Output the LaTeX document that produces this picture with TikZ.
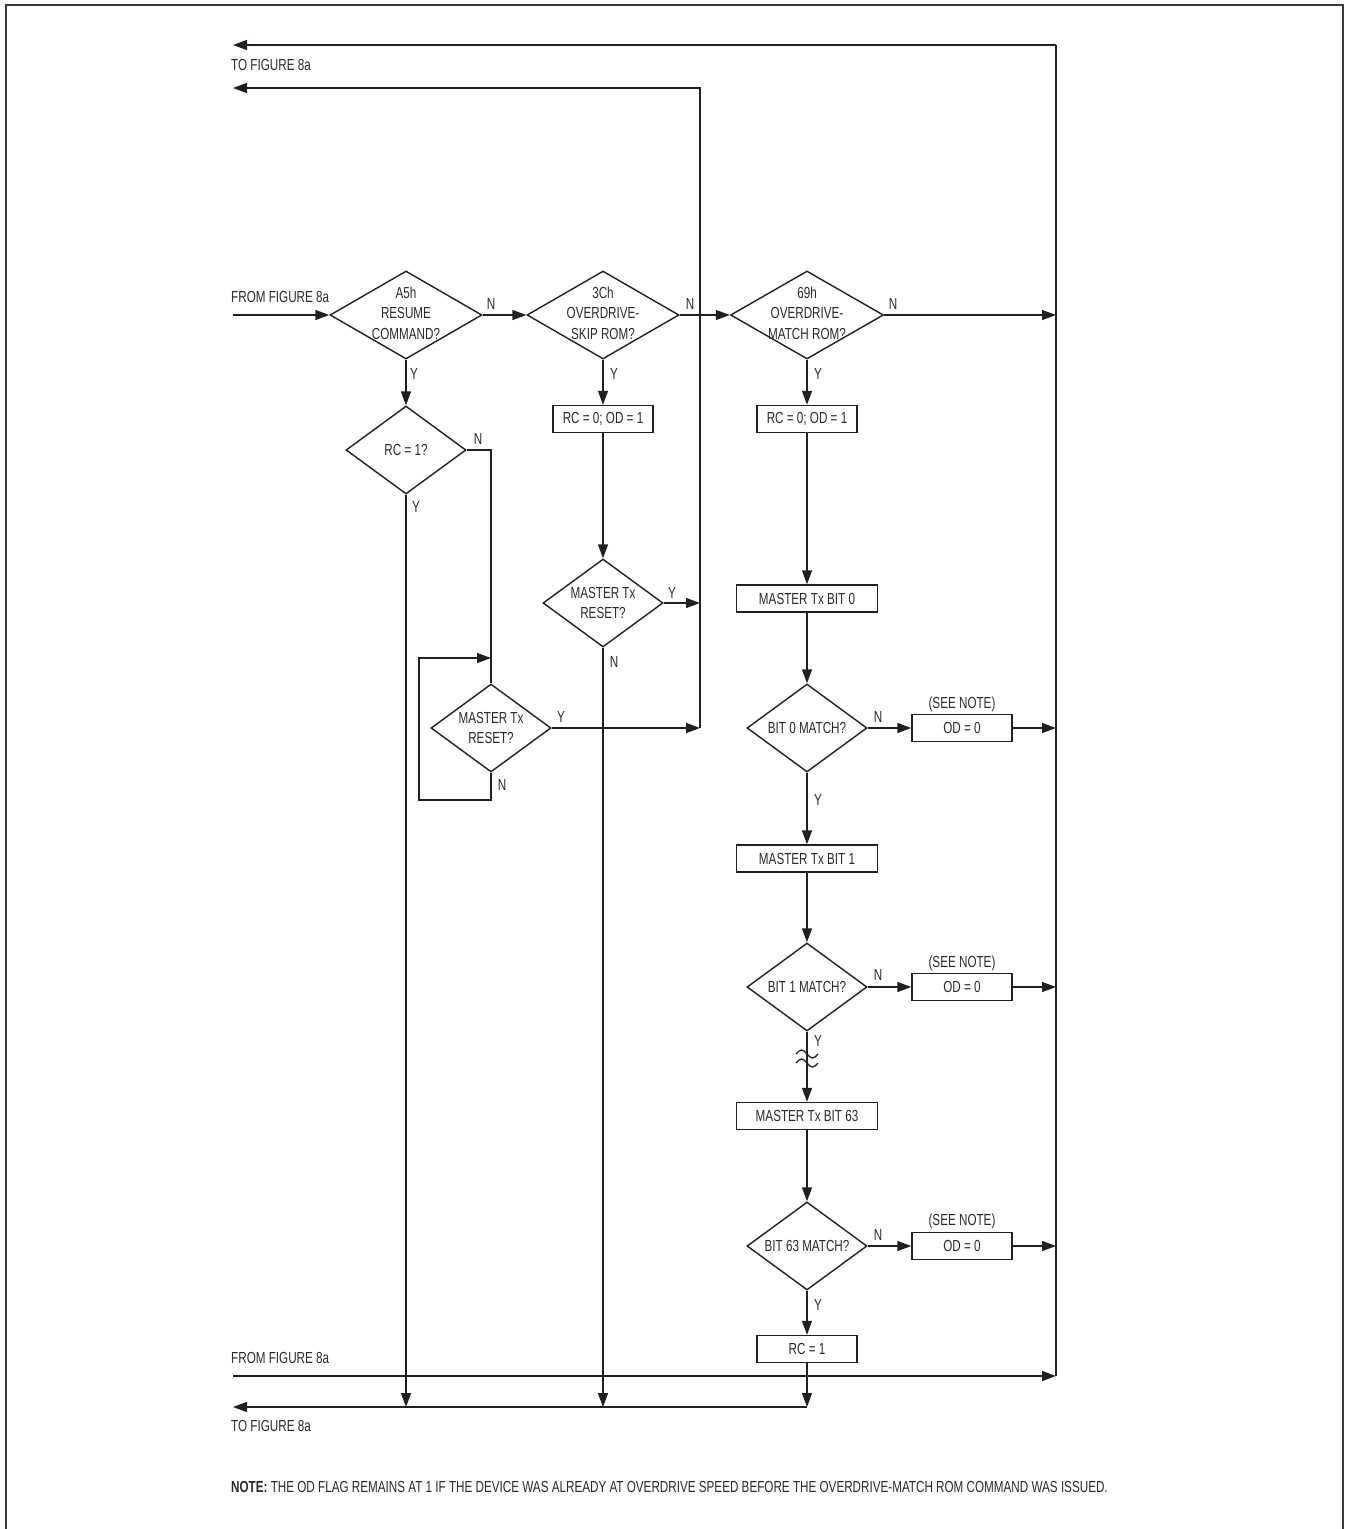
\documentclass[tikz,border=0pt]{standalone}
\usepackage{fontspec}
\setmainfont{Liberation Sans}[FakeStretch=0.73]
\usetikzlibrary{arrows.meta,shapes.geometric}
\definecolor{linec}{HTML}{231F20}
\definecolor{txtc}{HTML}{2A2A2A}
\definecolor{framec}{HTML}{3A3A3A}
\begin{document}
\begin{tikzpicture}[x=1pt,y=-1pt,
  every node/.style={font=\fontsize{16}{20.5}\selectfont, text=txtc},
  wire/.style={draw=linec, line width=1.4pt},
  arr/.style={wire, -{Triangle[length=14pt,width=10pt]}},
  dia/.style={diamond, draw=linec, line width=1.4pt, inner sep=0pt, minimum height=88pt},
  box/.style={rectangle, draw=linec, line width=1.4pt, inner sep=0pt, minimum height=27pt},
  txt/.style={align=center, inner sep=0pt},
  lab/.style={inner sep=0pt},
  side/.style={inner sep=0pt, anchor=west}]
\useasboundingbox (0,0) rectangle (1348,1529);
% frame
\draw[framec, line width=2.4pt] (6,1529) -- (6,5) -- (1343,5) -- (1343,1529);

% helper coordinates
\coordinate (rvt) at (1056,45);
\coordinate (rvb) at (1056,1376);
\coordinate (mvt) at (700,88);
\coordinate (mvb) at (700,728);
\coordinate (tl1) at (233,45);
\coordinate (tl2) at (233,88);
\coordinate (fin1) at (233,315);
\coordinate (fin2) at (233,1376);
\coordinate (bl) at (807,1407);
\coordinate (tl3) at (233,1407);
\coordinate (lp1) at (491,800);
\coordinate (lp2) at (419,800);
\coordinate (lp3) at (419,658);
\coordinate (lp4) at (491,658);

% decision nodes
\node[dia, minimum width=152pt] (a5) at (406,315) {};
\node[txt] (a5t) at (406,313) {A5h\\RESUME\\COMMAND?};
\node[dia, minimum width=152pt] (c3) at (603,315) {};
\node[txt] (c3t) at (603,313) {3Ch\\OVERDRIVE-\\SKIP ROM?};
\node[dia, minimum width=153pt] (m69) at (807,315) {};
\node[txt] (m69t) at (807,313) {69h\\OVERDRIVE-\\MATCH ROM?};
\node[dia, minimum width=120pt] (rc1) at (406,450) {};
\node[txt] (rc1t) at (406,450) {RC = 1?};
\node[dia, minimum width=120pt] (mt1) at (603,603) {};
\node[txt] (mt1t) at (603,603) {MASTER Tx\\RESET?};
\node[dia, minimum width=120pt] (mt2) at (491,728) {};
\node[txt] (mt2t) at (491,728) {MASTER Tx\\RESET?};
\node[dia, minimum width=120pt] (d0) at (807,728) {};
\node[txt] (d0t) at (807,728) {BIT 0 MATCH?};
\node[dia, minimum width=120pt] (d1) at (807,987) {};
\node[txt] (d1t) at (807,987) {BIT 1 MATCH?};
\node[dia, minimum width=120pt] (d63) at (807,1246) {};
\node[txt] (d63t) at (807,1246) {BIT 63 MATCH?};

% process boxes
\node[box, minimum width=100pt] (b1) at (603,419) {RC = 0; OD = 1};
\node[box, minimum width=100pt] (b2) at (807,419) {RC = 0; OD = 1};
\node[box, minimum width=141pt] (bit0) at (807,598.5) {MASTER Tx BIT 0};
\node[box, minimum width=141pt] (bit1) at (807,858.5) {MASTER Tx BIT 1};
\node[box, minimum width=141pt] (bit63) at (807,1116) {MASTER Tx BIT 63};
\node[box, minimum width=100pt] (rcb) at (807,1349) {RC = 1};
\node[box, minimum width=100pt] (od0) at (962,728) {OD = 0};
\node[box, minimum width=100pt] (od1) at (962,987) {OD = 0};
\node[box, minimum width=100pt] (od63) at (962,1246) {OD = 0};
\node[lab] (sn0) at (962,704) {(SEE NOTE)};
\node[lab] (sn1) at (962,963) {(SEE NOTE)};
\node[lab] (sn63) at (962,1221) {(SEE NOTE)};

% side texts
\node[side] (to1) at (231,65) {TO FIGURE 8a};
\node[side] (from1) at (231,297) {FROM FIGURE 8a};
\node[side] (from2) at (231,1358) {FROM FIGURE 8a};
\node[side] (to2) at (231,1426) {TO FIGURE 8a};
\node[side] (note) at (231,1487) {\textbf{NOTE:} THE OD FLAG REMAINS AT 1 IF THE DEVICE WAS ALREADY AT OVERDRIVE SPEED BEFORE THE OVERDRIVE-MATCH ROM COMMAND WAS ISSUED.};

% long lines
\draw[arr] (rvt) -- (tl1);
\draw[wire] (rvt) -- (rvb);
\draw[arr] (mvb) -- (mvt) -- (tl2);
\draw[arr] (fin2) -- (rvb);
\draw[arr] (bl) -- (tl3);

% top row
\draw[arr] (fin1) -- (a5.west);
\draw[arr] (a5.east) -- (c3.west);
\draw[arr] (c3.east) -- (m69.west);
\draw[arr] (m69.east) -- (m69.east -| rvt);
\node[lab] (n1) at (491,304) {N};
\node[lab] (n2) at (690,304) {N};
\node[lab] (n3) at (893,304) {N};

% A5h column
\draw[arr] (a5.south) -- (rc1.north);
\node[lab] (y1) at (414,374) {Y};
\draw[wire] (rc1.east) -| (mt2.north);
\node[lab] (n4) at (478,439) {N};
\draw[arr] (rc1.south) -- (rc1.south |- bl);
\node[lab] (y2) at (416,507) {Y};
\draw[arr] (mt2.south) -- (lp1) -- (lp2) -- (lp3) -- (lp4);
\node[lab] (n5) at (502,785) {N};
\draw[arr] (mt2.east) -- (mt2.east -| mvt);
\node[lab] (y3) at (561,717) {Y};

% 3Ch column
\draw[arr] (c3.south) -- (b1.north);
\node[lab] (y4) at (614,374) {Y};
\draw[arr] (b1.south) -- (mt1.north);
\draw[arr] (mt1.east) -- (mt1.east -| mvt);
\node[lab] (y5) at (672,593) {Y};
\draw[arr] (mt1.south) -- (mt1.south |- bl);
\node[lab] (n6) at (614,662) {N};

% 69h column
\draw[arr] (m69.south) -- (b2.north);
\node[lab] (y6) at (818,374) {Y};
\draw[arr] (b2.south) -- (bit0.north);
\draw[arr] (bit0.south) -- (d0.north);
\draw[arr] (d0.east) -- (od0.west);
\node[lab] (n7) at (878,717) {N};
\draw[arr] (od0.east) -- (od0.east -| rvt);
\draw[arr] (d0.south) -- (bit1.north);
\node[lab] (y7) at (818,800) {Y};
\draw[arr] (bit1.south) -- (d1.north);
\draw[arr] (d1.east) -- (od1.west);
\node[lab] (n8) at (878,975) {N};
\draw[arr] (od1.east) -- (od1.east -| rvt);
\draw[arr] (d1.south) -- (bit63.north);
\node[lab] (y8) at (818,1041) {Y};
\draw[wire, line width=1.3pt] (796,1054) sin (801.5,1050) cos (807,1054) sin (812.5,1058) cos (818,1054);
\draw[wire, line width=1.3pt] (796,1063) sin (801.5,1059) cos (807,1063) sin (812.5,1067) cos (818,1063);
\draw[arr] (bit63.south) -- (d63.north);
\draw[arr] (d63.east) -- (od63.west);
\node[lab] (n9) at (878,1235) {N};
\draw[arr] (od63.east) -- (od63.east -| rvt);
\draw[arr] (d63.south) -- (rcb.north);
\node[lab] (y9) at (818,1305) {Y};
\draw[arr] (rcb.south) -- (bl);
\end{tikzpicture}
\end{document}
